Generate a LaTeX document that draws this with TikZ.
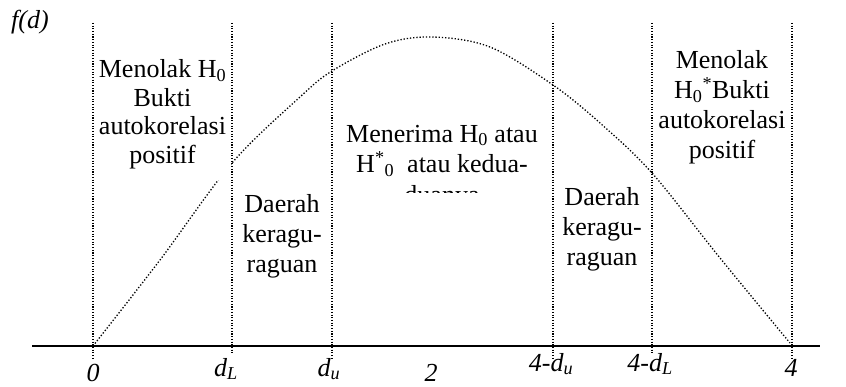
\documentclass[tikz,border=0pt]{standalone}
\usepackage{fontspec}
\setmainfont{Liberation Serif}

\begin{document}
\begin{tikzpicture}[x=1pt, y=-1pt,
    batas/.style={line width=1.1pt, dash pattern=on 1.1pt off 1.6pt},
    kurva/.style={line width=1.3pt, dash pattern=on 1.3pt off 1.9pt},
    ket/.style={align=center, inner sep=0pt},
    lbl/.style={anchor=base, font=\fontsize{26}{30}\selectfont\itshape}]
    \useasboundingbox (0,0) rectangle (846,387);

    % kurva f(d)
    \draw[kurva] plot[smooth, tension=0.55] coordinates {(93,346) (160,260) (232,163) (300,97) (332,71) (385,44) (432,37) (490,47) (553,85) (600,123) (652,173) (720,258) (790,343)};

    % daerah-daerah
    \node[ket, fill=white, minimum width=137pt, inner ysep=11pt, anchor=south,
        font=\fontsize{26}{28.5}\selectfont] (tolakH0) at (162.5,180)
        {Menolak H\textsubscript{0}\\ Bukti\\ autokorelasi\\ positif};
    \node[ket, anchor=north, font=\fontsize{26}{30}\selectfont] (raguKiri) at (282,194.2)
        {Daerah\\ keragu-\\ raguan};
    \begin{scope}
        \clip (333,100) rectangle (552,193);
        \node[ket, anchor=north, font=\fontsize{26}{30.5}\selectfont] (terima) at (442,124.8)
            {Menerima H\textsubscript{0} atau\\ H\textsuperscript{*}\textsubscript{0}\ \ atau kedua-\\ duanya};
    \end{scope}
    \node[ket, anchor=north, font=\fontsize{26}{30}\selectfont] (raguKanan) at (602,187.2)
        {Daerah\\ keragu-\\ raguan};
    \node[ket, anchor=north, font=\fontsize{26}{30}\selectfont] (tolakH0s) at (722,50.2)
        {Menolak\\ H\textsubscript{0}\textsuperscript{*}Bukti\\ autokorelasi\\ positif};

    % garis batas
    \foreach \x/\b in {93/360, 232/353, 332/360, 553/358, 652/353, 792/360}
        \draw[batas] (\x,23) -- (\x,\b);

    % sumbu
    \draw[line width=1.4pt] (32,346) -- (820,346);

    \node[lbl] (fd) at (30,29) {f(d)};
    \node[lbl] (nol) at (93,381) {0};
    \node[lbl] (dL) at (226,376) {d\textsubscript{L}};
    \node[lbl] (du) at (329,376) {d\textsubscript{u}};
    \node[lbl] (dua) at (431,381) {2};
    \node[lbl] (empatdu) at (551,371) {4-d\textsubscript{u}};
    \node[lbl] (empatdL) at (650,371) {4-d\textsubscript{L}};
    \node[lbl] (empat) at (791,376) {4};
\end{tikzpicture}
\end{document}
